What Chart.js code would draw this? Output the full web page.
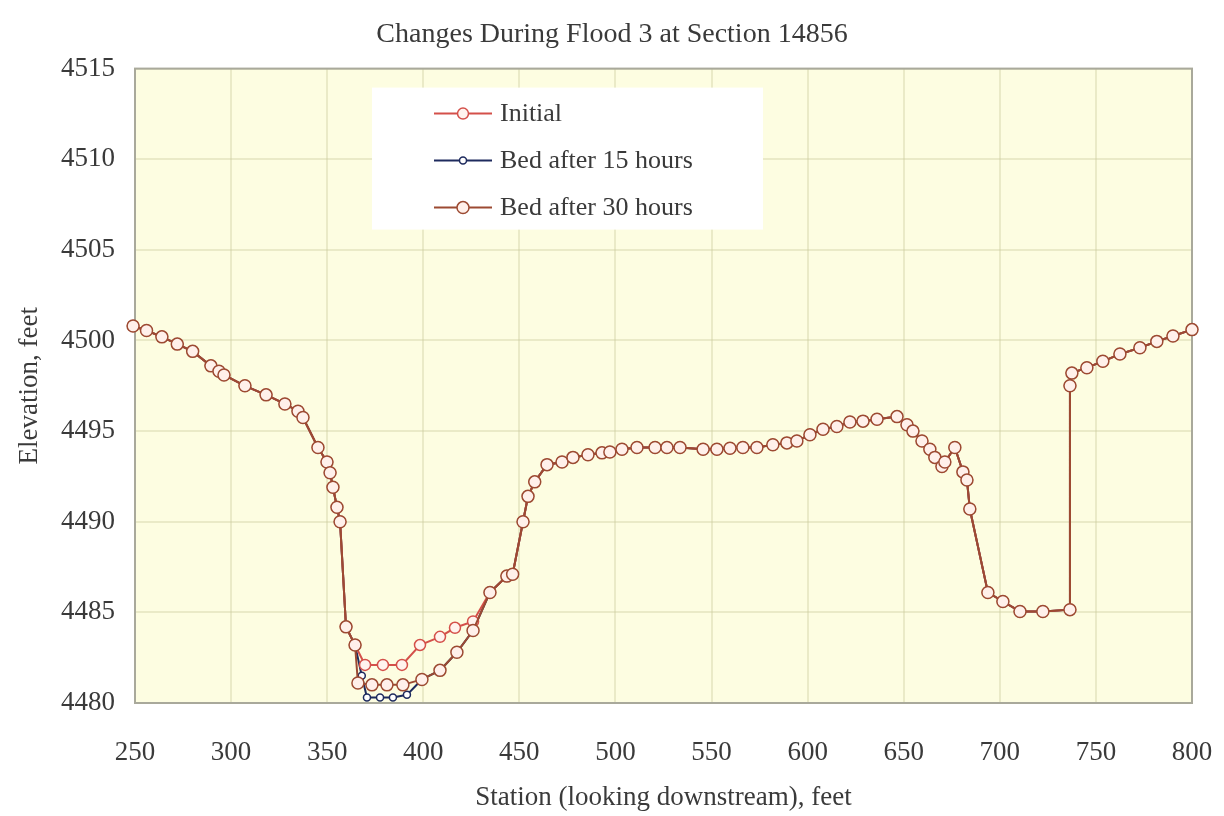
<!DOCTYPE html>
<html>
<head>
<meta charset="utf-8">
<title>Changes During Flood 3 at Section 14856</title>
<script src="https://cdn.jsdelivr.net/npm/chart.js@4.4.0/dist/chart.umd.min.js"></script>
<style>
  html, body { margin: 0; padding: 0; background: #fff; }
</style>
</head>
<body>
<canvas id="myChart" width="1224" height="816"></canvas>
<script>
// left bank, same for all three surveys
const leftStation = [249, 256, 264, 272, 280, 289.5, 293.7, 296.3, 307.2, 318.2, 328, 334.8, 337.4, 345.2, 349.9, 351.5, 353, 355.1, 356.7, 359.8, 364.5];
const leftElev = [4500.8, 4500.55, 4500.2, 4499.8, 4499.4, 4498.6, 4498.3, 4498.1, 4497.5, 4497.0, 4496.5, 4496.1, 4495.75, 4494.1, 4493.3, 4492.7, 4491.9, 4490.8, 4490.0, 4484.2, 4483.2];

// channel bottom, differs per survey
const initialStation = [369.7, 379, 388.9, 398.3, 408.7, 416.5, 425.9];
const initialElev = [4482.1, 4482.1, 4482.1, 4483.2, 4483.65, 4484.15, 4484.5];

const hours15Station = [368, 370.7, 377.5, 384.2, 391.5, 399.3, 408.7, 417.5, 425.9];
const hours15Elev = [4481.5, 4480.3, 4480.3, 4480.3, 4480.45, 4481.3, 4481.8, 4482.8, 4484.0];

const hours30Station = [366, 373.3, 381.1, 389.4, 399.3, 408.7, 417.5, 425.9];
const hours30Elev = [4481.1, 4481.0, 4481.0, 4481.0, 4481.3, 4481.8, 4482.8, 4484.0];

// right side of channel, overbank and right bank (shared)
const rightStation = [434.7, 443.5, 446.5, 451.9, 454.5, 458, 464.4, 472.2, 477.9, 485.7, 493, 497.1, 503.4, 511.2, 520.6, 526.8, 533.6, 545.6, 552.8, 559.6, 566.3, 573.6, 581.9, 589.2, 594.4, 601.2, 608, 615.2, 622, 628.8, 636.1, 646.5, 651.7, 654.8, 659.5, 663.6, 666.2, 669.9, 671.4, 676.6, 680.8, 682.9, 684.4, 693.8, 701.6, 710.5, 722.4, 736.5, 736.5, 737.5, 745.3, 753.6, 762.5, 772.9, 781.7, 790.1, 800];
const rightElev = [4486.1, 4487.0, 4487.1, 4490.0, 4491.4, 4492.2, 4493.15, 4493.3, 4493.55, 4493.7, 4493.8, 4493.85, 4494.0, 4494.1, 4494.1, 4494.1, 4494.1, 4494.0, 4494.0, 4494.05, 4494.1, 4494.1, 4494.25, 4494.35, 4494.45, 4494.8, 4495.1, 4495.25, 4495.5, 4495.55, 4495.65, 4495.8, 4495.35, 4495.0, 4494.45, 4494.0, 4493.55, 4493.05, 4493.3, 4494.1, 4492.75, 4492.3, 4490.7, 4486.1, 4485.6, 4485.05, 4485.05, 4485.15, 4497.5, 4498.2, 4498.5, 4498.85, 4499.25, 4499.6, 4499.95, 4500.25, 4500.6];

const xTicks = { min: 250, max: 800, step: 50 };
const yTicks = { min: 4480, max: 4515, step: 5 };

function toPoints(...pairs) {
  const pts = [];
  for (let i = 0; i < pairs.length; i += 2) {
    pairs[i].forEach((s, j) => pts.push({ x: s, y: pairs[i + 1][j] }));
  }
  return pts;
}

const plotFill = {
  id: 'plotFill',
  beforeDraw(chart) {
    const { ctx, chartArea: a } = chart;
    ctx.save();
    ctx.fillStyle = '#fdfde1';
    ctx.fillRect(a.left, a.top, a.right - a.left, a.bottom - a.top);
    ctx.restore();
  },
  beforeDatasetsDraw(chart) {
    const { ctx, chartArea: a } = chart;
    ctx.save();
    ctx.strokeStyle = '#a9a99b';
    ctx.lineWidth = 2;
    ctx.strokeRect(a.left, a.top, a.right - a.left, a.bottom - a.top);
    ctx.restore();
  }
};

// white legend box inside the plot
const legendBox = {
  id: 'legendBox',
  afterDraw(chart) {
    const { ctx, chartArea: a } = chart;
    const x = a.left + 237, y = a.top + 19, w = 391, h = 142;
    ctx.save();
    ctx.fillStyle = '#ffffff';
    ctx.fillRect(x, y, w, h);
    ctx.font = '26px "Liberation Serif", serif';
    ctx.textBaseline = 'middle';
    chart.data.datasets.forEach((ds, i) => {
      const cy = y + 26 + i * 47;
      ctx.strokeStyle = ds.borderColor;
      ctx.lineWidth = 2;
      ctx.beginPath();
      ctx.moveTo(x + 62, cy);
      ctx.lineTo(x + 120, cy);
      ctx.stroke();
      ctx.beginPath();
      ctx.arc(x + 91, cy, ds.pointRadius, 0, Math.PI * 2);
      ctx.fillStyle = ds.pointBackgroundColor;
      ctx.fill();
      ctx.lineWidth = 1.5;
      ctx.stroke();
      ctx.fillStyle = '#3a3a3a';
      ctx.fillText(ds.label, x + 128, cy + 1);
    });
    ctx.restore();
  }
};

Chart.defaults.font.family = '"Liberation Serif", "Times New Roman", serif';
Chart.defaults.font.size = 27;
Chart.defaults.color = '#3a3a3a';

const ctx = document.getElementById('myChart').getContext('2d');
new Chart(ctx, {
  type: 'line',
  data: {
    datasets: [
      {
        label: 'Initial',
        data: toPoints(leftStation, leftElev, initialStation, initialElev, rightStation, rightElev),
        borderColor: '#d4504a',
        pointBackgroundColor: '#fff3ee',
        pointBorderColor: '#d4504a',
        pointRadius: 5.5,
        order: 1
      },
      {
        label: 'Bed after 15 hours',
        data: toPoints(leftStation, leftElev, hours15Station, hours15Elev, rightStation, rightElev),
        borderColor: '#1e2b5e',
        pointBackgroundColor: '#ffffff',
        pointBorderColor: '#1e2b5e',
        pointRadius: 3.5,
        order: 2
      },
      {
        label: 'Bed after 30 hours',
        data: toPoints(leftStation, leftElev, hours30Station, hours30Elev, rightStation, rightElev),
        borderColor: '#9c4a32',
        pointBackgroundColor: '#fff0ea',
        pointBorderColor: '#9c4a32',
        pointRadius: 6,
        order: 0
      }
    ]
  },
  options: {
    responsive: false,
    animation: false,
    clip: false,
    layout: { padding: { left: 0, right: 0, top: 0, bottom: 0 } },
    elements: {
      line: { borderWidth: 2, tension: 0 },
      point: { borderWidth: 1.5, hoverRadius: 6 }
    },
    scales: {
      x: {
        type: 'linear',
        min: xTicks.min,
        max: xTicks.max,
        ticks: { stepSize: xTicks.step, padding: 34, callback: (v) => String(v) },
        grid: { color: 'rgba(205,205,160,0.4)', lineWidth: 2, drawTicks: false },
        border: { display: false },
        title: { display: true, text: 'Station (looking downstream), feet', padding: { top: 0, bottom: 2 } },
        afterFit: (s) => { s.height = 113; s.paddingLeft = 0; s.paddingRight = 32; }
      },
      y: {
        min: yTicks.min,
        max: yTicks.max,
        ticks: { stepSize: yTicks.step, padding: 20, callback: (v) => String(v) },
        grid: { color: 'rgba(205,205,160,0.4)', lineWidth: 2, drawTicks: false },
        border: { display: false },
        title: { display: true, text: 'Elevation, feet', padding: { top: 14, bottom: 0 } },
        afterFit: (s) => { s.width = 135; }
      }
    },
    plugins: {
      legend: { display: false },
      tooltip: { enabled: false },
      title: {
        display: true,
        text: 'Changes During Flood 3 at Section 14856',
        font: { size: 28, weight: 'normal' },
        color: '#3a3a3a',
        padding: { top: 18, bottom: 17 }
      }
    }
  },
  plugins: [plotFill, legendBox]
});
</script>
</body>
</html>
